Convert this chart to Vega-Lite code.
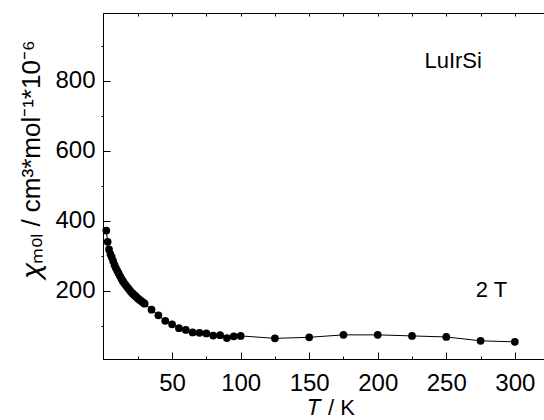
{
  "$schema": "https://vega.github.io/schema/vega-lite/v6.json",
  "width": 442,
  "height": 346,
  "autosize": {"type": "none"},
  "padding": {"left": 103, "top": 13, "right": 0, "bottom": 61},
  "background": "white",
  "config": {
    "view": {"stroke": "black", "strokeWidth": 1},
    "font": "Liberation Sans",
    "axis": {"domainColor": "black", "tickColor": "black", "labelColor": "black", "titleColor": "black", "grid": false, "labelFont": "Liberation Sans", "titleFont": "Liberation Sans", "titleFontWeight": "normal"}
  },
  "datasets": {
    "chi": [
      {"T": 2, "chi": 372}, {"T": 3, "chi": 340}, {"T": 4, "chi": 318}, {"T": 5, "chi": 305},
      {"T": 6, "chi": 296}, {"T": 7, "chi": 285}, {"T": 8, "chi": 274}, {"T": 9, "chi": 265},
      {"T": 10, "chi": 257}, {"T": 11, "chi": 250}, {"T": 12, "chi": 242}, {"T": 13, "chi": 235},
      {"T": 14, "chi": 228}, {"T": 15, "chi": 222}, {"T": 16, "chi": 217}, {"T": 17, "chi": 212},
      {"T": 18, "chi": 207}, {"T": 19, "chi": 202}, {"T": 20, "chi": 197}, {"T": 21, "chi": 193},
      {"T": 22, "chi": 189}, {"T": 23, "chi": 186}, {"T": 24, "chi": 182}, {"T": 25, "chi": 178},
      {"T": 26, "chi": 175}, {"T": 27, "chi": 172}, {"T": 28, "chi": 169}, {"T": 29, "chi": 166},
      {"T": 30, "chi": 163}, {"T": 35, "chi": 146}, {"T": 40, "chi": 130}, {"T": 45, "chi": 114},
      {"T": 50, "chi": 104}, {"T": 55, "chi": 93}, {"T": 60, "chi": 88}, {"T": 65, "chi": 81},
      {"T": 70, "chi": 80}, {"T": 75, "chi": 78}, {"T": 80, "chi": 72}, {"T": 85, "chi": 73},
      {"T": 90, "chi": 65}, {"T": 95, "chi": 70}, {"T": 100, "chi": 71}, {"T": 125, "chi": 64},
      {"T": 150, "chi": 67}, {"T": 175, "chi": 74}, {"T": 200, "chi": 74}, {"T": 225, "chi": 71},
      {"T": 250, "chi": 68}, {"T": 275, "chi": 57}, {"T": 300, "chi": 54}
    ],
    "notes": [
      {"T": 255, "chi": 858, "label": "LuIrSi"},
      {"T": 283, "chi": 202, "label": "2 T"}
    ]
  },
  "resolve": {"axis": {"x": "independent"}},
  "layer": [
    {
      "data": {"name": "chi"},
      "mark": {"type": "line", "color": "black", "strokeWidth": 1, "point": {"filled": true, "size": 60, "color": "black", "opacity": 1}},
      "encoding": {
        "x": {"field": "T", "type": "quantitative", "scale": {"domain": [-0.4, 322], "nice": false, "zero": false},
              "axis": {"orient": "bottom", "values": [25, 50, 75, 100, 125, 150, 175, 200, 225, 250, 275, 300],
                       "tickSize": {"condition": {"test": "datum.value % 50 === 0", "value": -7}, "value": -3},
                       "labelExpr": "datum.value % 50 === 0 ? datum.label : ''",
                       "labelPadding": 19, "labelFontSize": 24, "labelFlush": false,
                       "title": "𝑇 / K", "titleFontSize": 22, "titlePadding": 2, "titleX": 228}},
        "y": {"field": "chi", "type": "quantitative", "scale": {"domain": [5, 994], "nice": false, "zero": false},
              "axis": {"orient": "left", "values": [100, 200, 300, 400, 500, 600, 700, 800, 900],
                       "tickSize": {"condition": {"test": "datum.value % 200 === 0", "value": -7}, "value": 2},
                       "labelExpr": "datum.value % 200 === 0 ? datum.label : ''",
                       "labelPadding": 15, "labelFontSize": 24, "labelFlush": false,
                       "title": "𝜒ₘₒₗ / cm³*mol⁻¹*10⁻⁶", "titleFontSize": 26, "titlePadding": 10, "titleY": 146}}
      }
    },
    {
      "data": {"name": "notes"},
      "mark": {"type": "text", "fontSize": 22, "font": "Liberation Sans", "color": "black", "align": "center", "baseline": "middle"},
      "encoding": {
        "x": {"field": "T", "type": "quantitative",
              "axis": {"orient": "top", "values": [25, 50, 75, 100, 125, 150, 175, 200, 225, 250, 275, 300], "labels": false, "domain": false, "tickSize": -3, "title": null}},
        "y": {"field": "chi", "type": "quantitative"},
        "text": {"field": "label"}
      }
    }
  ]
}
